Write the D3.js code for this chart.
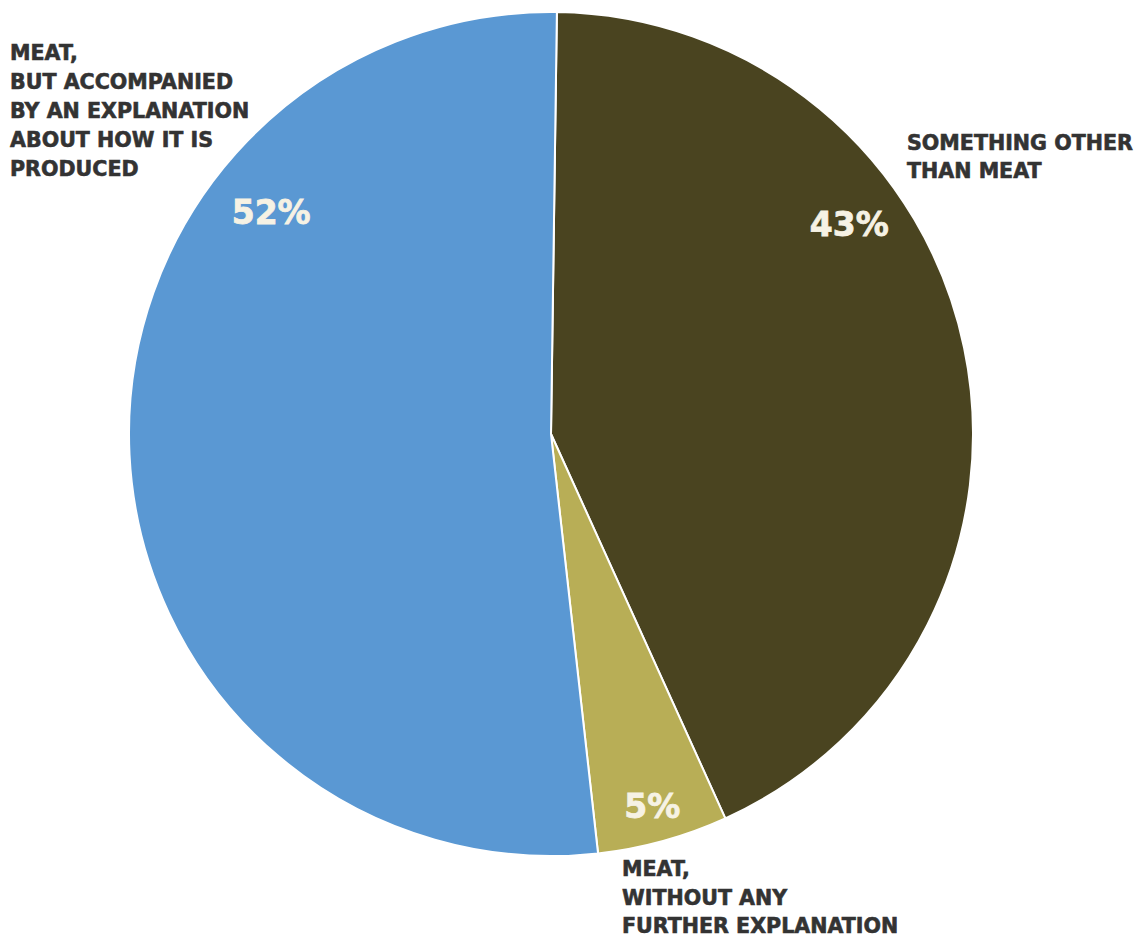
<!DOCTYPE html>
<html>
<head>
<meta charset="utf-8">
<script src="https://cdn.jsdelivr.net/npm/d3@7"></script>
<style>
  html, body { margin: 0; padding: 0; background: #ffffff; }
  svg { display: block; }
</style>
</head>
<body>
<svg id="chart" width="1135" height="939"></svg>
<script>
// ---- data ----
const categories = [
  "SOMETHING OTHER THAN MEAT",
  "MEAT, WITHOUT ANY FURTHER EXPLANATION",
  "MEAT, BUT ACCOMPANIED BY AN EXPLANATION ABOUT HOW IT IS PRODUCED"
];
const values = [43, 5, 52];
const percentLabels = ["43%", "5%", "52%"];
const labelLines = [
  ["SOMETHING OTHER", "THAN MEAT"],
  ["MEAT,", "WITHOUT ANY", "FURTHER EXPLANATION"],
  ["MEAT,", "BUT ACCOMPANIED", "BY AN EXPLANATION", "ABOUT HOW IT IS", "PRODUCED"]
];
const colors = ["#4a4420", "#b8ae56", "#5a98d3"];

// ---- layout (not data) ----
const W = 1135, H = 939;
const cx = 551, cy = 434, R = 422;
const startOffset = 0.8 * Math.PI / 180;
// percent label placement: [angle fraction within slice, radius]
const pctPlace = [
  { t: 0.349, r: 365 },
  { t: 0.51, r: 386 },
  { t: 0.72, r: 357 }
];
// category label anchors
const catPlace = [
  { x: 907, y: 150, lh: 27.5 },
  { x: 622, y: 876, lh: 28.5 },
  { x: 10,  y: 60,  lh: 29 }
];

const svg = d3.select("#chart");
const g = svg.append("g").attr("transform", `translate(${cx},${cy})`);

const pie = d3.pie().sort(null).value(d => d)
  .startAngle(startOffset).endAngle(startOffset + 2 * Math.PI);
const arcs = pie(values);
const arc = d3.arc().innerRadius(0).outerRadius(R);

g.selectAll("path.slice")
  .data(arcs)
  .join("path")
  .attr("class", "slice")
  .attr("d", arc)
  .attr("fill", (d, i) => colors[i])
  .attr("stroke", "#ffffff")
  .attr("stroke-width", 2)
  .attr("stroke-linejoin", "round");

g.selectAll("text.pct")
  .data(arcs)
  .join("text")
  .attr("class", "pct")
  .attr("x", (d, i) => {
    const a = d.startAngle + (d.endAngle - d.startAngle) * pctPlace[i].t;
    return Math.sin(a) * pctPlace[i].r;
  })
  .attr("y", (d, i) => {
    const a = d.startAngle + (d.endAngle - d.startAngle) * pctPlace[i].t;
    return -Math.cos(a) * pctPlace[i].r;
  })
  .attr("dy", "0.36em")
  .attr("text-anchor", "middle")
  .attr("font-family", "'DejaVu Sans', sans-serif")
  .attr("font-weight", "bold")
  .attr("font-size", 33)
  .attr("fill", "#f6f2e4")
  .attr("stroke", "#f6f2e4")
  .attr("stroke-width", 0.8)
  .text((d, i) => percentLabels[i]);

const cat = svg.selectAll("text.cat")
  .data(labelLines)
  .join("text")
  .attr("class", "cat")
  .attr("font-family", "'DejaVu Sans', sans-serif")
  .attr("font-weight", "bold")
  .attr("font-size", 20.6)
  .attr("fill", "#333333")
  .attr("stroke", "#333333")
  .attr("stroke-width", 0.6);

cat.each(function (lines, i) {
  const p = catPlace[i];
  d3.select(this).selectAll("tspan")
    .data(lines)
    .join("tspan")
    .attr("x", p.x)
    .attr("y", (l, j) => p.y + j * p.lh)
    .text(l => l);
});
</script>
</body>
</html>
